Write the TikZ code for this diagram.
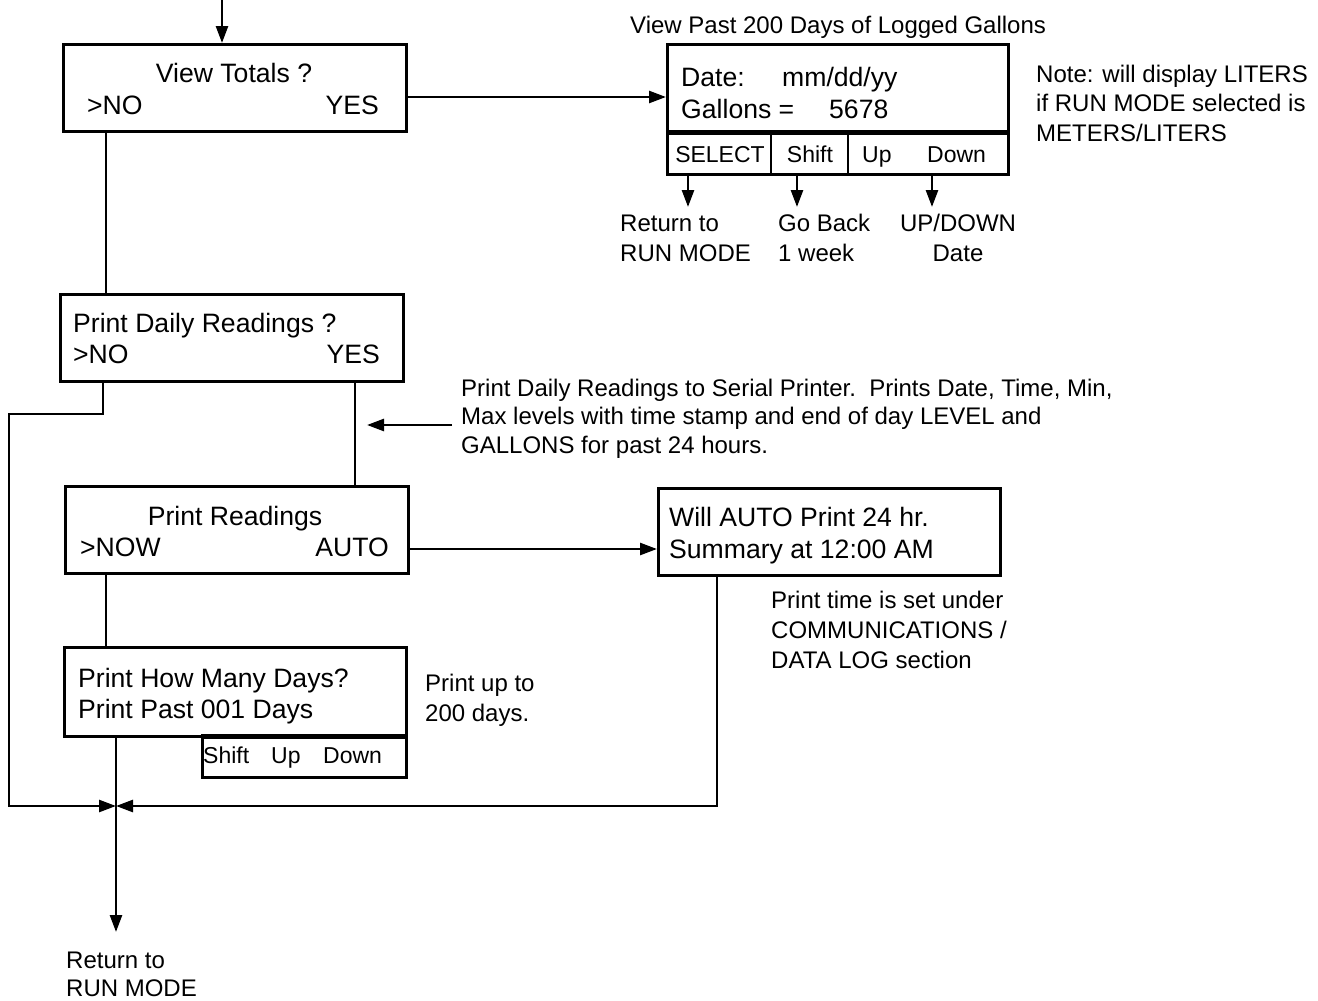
\documentclass[tikz,border=0pt]{standalone}
\usepackage{fontspec}
\setmainfont{Liberation Sans}
\usetikzlibrary{arrows.meta}
\begin{document}
\begin{tikzpicture}[x=1pt,y=-1pt,
  box/.style={draw, line width=2.9pt, inner sep=0pt, anchor=north west},
  ln/.style={line width=2.6pt},
  arr/.style={ln, -{Triangle[length=17pt,width=12pt]}},
  bt/.style={font=\fontsize{26.6}{32}\selectfont, inner sep=0pt, anchor=base west},
  st/.style={font=\fontsize{24}{29.5}\selectfont, inner sep=0pt, anchor=base west, align=left},
  kt/.style={font=\fontsize{23}{28}\selectfont, inner sep=0pt, anchor=base west},
]
\useasboundingbox (0,0) rectangle (1318,1001);

% boxes
\node[box, minimum width=343pt, minimum height=87pt] (b1) at (62,43) {};
\node[box, minimum width=341pt, minimum height=88pt] (b2) at (666,43) {};
\node[box, minimum width=341pt, minimum height=41pt] (b2k) at (666,132) {};
\node[box, minimum width=343pt, minimum height=87pt] (b3) at (59,293) {};
\node[box, minimum width=343pt, minimum height=87pt] (b4) at (64,485) {};
\node[box, minimum width=342pt, minimum height=87pt] (b5) at (657,487) {};
\node[box, minimum width=342pt, minimum height=89pt] (b6) at (63,646) {};
\node[box, minimum width=204pt, minimum height=40pt] (b6k) at (201,736) {};
\draw[line width=4.8pt] (b2k.north west) -- (b2k.north east);
\draw[line width=4.8pt] (b6k.north west) -- (b6k.north east);

% key dividers
\coordinate (d1) at (771,0);
\coordinate (d2) at (848,0);
\draw[line width=2.9pt] (b2k.north -| d1) -- (b2k.south -| d1);
\draw[line width=2.9pt] (b2k.north -| d2) -- (b2k.south -| d2);

% box texts
\node[bt, anchor=base] (t1) at (234,82) {View Totals ?};
\node[bt] (t1n) at (87,114) {>NO};
\node[bt, anchor=base east] (t1y) at (379,114) {YES};

\node[st] (ttl) at (630,33) {View Past 200 Days of Logged Gallons};
\node[bt] (t2a) at (681,86) {Date:};
\node[bt] (t2b) at (782,86) {mm/dd/yy};
\node[bt] (t2c) at (681,118) {Gallons =};
\node[bt] (t2d) at (829,118) {5678};
\node[kt, anchor=base] (k1t) at (720,162) {SELECT};
\node[kt, anchor=base] (k2t) at (810,162) {Shift};
\node[kt] (k3t) at (862,162) {Up};
\node[kt] (k4t) at (927,162) {Down};

\coordinate (k1) at (688,207);
\coordinate (k2) at (797,207);
\coordinate (k3) at (932,207);
\draw[arr] (b2k.south -| k1) -- (k1);
\draw[arr] (b2k.south -| k2) -- (k2);
\draw[arr] (b2k.south -| k3) -- (k3);
\node[st] (r1) at (620,261) {Return to\\RUN MODE};
\node[st] (r2) at (778,261) {Go Back\\1 week};
\node[st, align=center, anchor=base] (r3) at (958,261) {UP/DOWN\\Date};
\node[st] (note) at (1036,141) {Note: will display LITERS\\if RUN MODE selected is\\METERS/LITERS};

\node[bt] (t3a) at (73,332) {Print Daily Readings ?};
\node[bt] (t3n) at (73,363) {>NO};
\node[bt, anchor=base east] (t3y) at (380,363) {YES};

\node[st, font=\fontsize{24}{28.5}\selectfont] (ann) at (461,453) {Print Daily Readings to Serial Printer.\ \ Prints Date, Time, Min,\\Max levels with time stamp and end of day LEVEL and\\GALLONS for past 24 hours.};

\node[bt, anchor=base] (t4a) at (235,525) {Print Readings};
\node[bt] (t4n) at (80,556) {>NOW};
\node[bt, anchor=base east] (t4y) at (389,556) {AUTO};

\node[bt] (t5a) at (669,526) {Will AUTO Print 24 hr.};
\node[bt] (t5b) at (669,558) {Summary at 12:00 AM};
\node[st, font=\fontsize{24}{30}\selectfont] (pt) at (771,668) {Print time is set under\\COMMUNICATIONS /\\DATA LOG section};

\node[bt] (t6a) at (78,687) {Print How Many Days?};
\node[bt] (t6b) at (78,718) {Print Past 001 Days};
\node[kt] (k5t) at (203,763) {Shift};
\node[kt] (k6t) at (271,763) {Up};
\node[kt] (k7t) at (323,763) {Down};
\node[st] (pu) at (425,721) {Print up to\\200 days.};
\node[st, font=\fontsize{24}{28}\selectfont] (ret2) at (66,996) {Return to\\RUN MODE};

% connectors
\coordinate (top) at (222,0);
\draw[arr] (top) -- (top |- b1.north);
\coordinate (a1) at (0,97);
\draw[arr] (b1.east |- a1) -- (b2.west |- a1);
\coordinate (v1) at (106,0);
\draw[ln] (b1.south -| v1) -- (b3.north -| v1);
\coordinate (v2) at (103,414);
\coordinate (v2l) at (9,414);
\coordinate (lft) at (9,806);
\coordinate (jn) at (116,806);
\draw[arr] (b3.south -| v2) -- (v2) -- (v2l) -- (lft) -- (jn);
\coordinate (v3) at (355,0);
\draw[ln] (b3.south -| v3) -- (b4.north -| v3);
\coordinate (an1) at (452,425);
\coordinate (an2) at (367,425);
\draw[arr] (an1) -- (an2);
\coordinate (a2) at (0,549);
\draw[arr] (b4.east |- a2) -- (b5.west |- a2);
\draw[ln] (b4.south -| v1) -- (b6.north -| v1);
\coordinate (v5) at (717,806);
\draw[arr] (b5.south -| v5) -- (v5) -- (jn);
\coordinate (ret) at (116,932);
\draw[arr] (b6.south -| ret) -- (ret);
\end{tikzpicture}
\end{document}
